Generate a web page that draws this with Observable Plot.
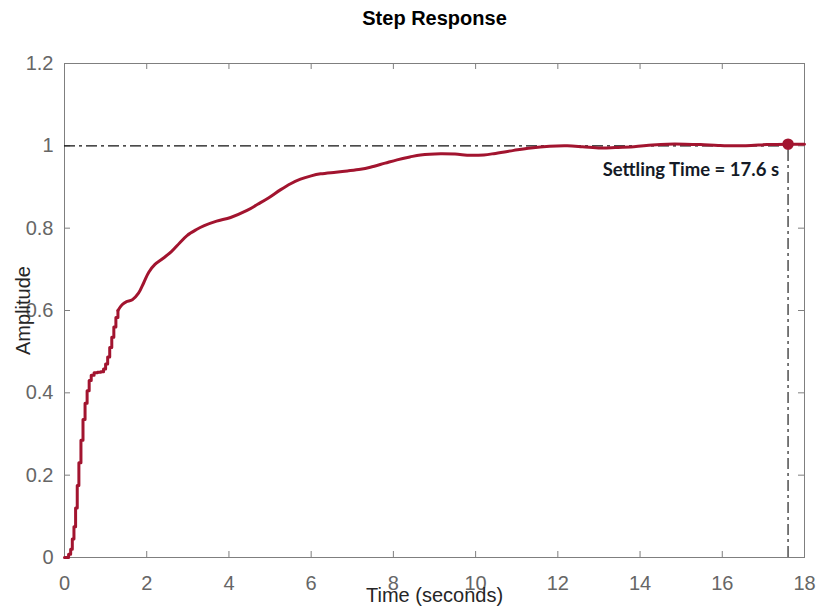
<!DOCTYPE html>
<html>
<head>
<meta charset="utf-8">
<script src="https://cdn.jsdelivr.net/npm/d3@7"></script>
<script src="https://cdn.jsdelivr.net/npm/@observablehq/plot@0.6"></script>
<style>
  html, body { margin: 0; padding: 0; background: #fff; }
  #chart svg { display: block; }
</style>
</head>
<body>
<div id="chart"></div>
<script>
// Sampled start of the step response (zero-order-hold staircase)
const stepTime  = [0, 0.10, 0.15, 0.19, 0.23, 0.27, 0.31, 0.35, 0.40, 0.45, 0.50, 0.55, 0.60, 0.65, 0.72, 0.80, 0.88, 0.95, 1.00, 1.05, 1.10, 1.15, 1.20, 1.25, 1.30];
const stepAmp   = [0, 0.008, 0.02, 0.045, 0.075, 0.12, 0.175, 0.23, 0.285, 0.335, 0.375, 0.405, 0.43, 0.443, 0.449, 0.45, 0.451, 0.458, 0.47, 0.487, 0.51, 0.535, 0.56, 0.583, 0.60];

// Remainder of the response, smooth
const smoothTime = [1.30, 1.40, 1.50, 1.65, 1.80, 1.93, 2.05, 2.20, 2.40, 2.60, 2.80, 2.98, 3.20, 3.40, 3.70, 4.04, 4.44, 4.70, 4.97, 5.25, 5.50, 5.74, 6.00, 6.23, 6.60, 6.88, 7.20, 7.44, 7.80, 8.09, 8.40, 8.66, 9.15, 9.50, 9.88, 10.20, 10.44, 10.93, 11.34, 11.80, 12.23, 12.60, 13.04, 13.40, 13.85, 14.30, 14.66, 15.10, 15.47, 15.90, 16.28, 16.70, 17.09, 17.60, 18.00];
const smoothAmp  = [0.60, 0.614, 0.621, 0.626, 0.642, 0.668, 0.693, 0.712, 0.727, 0.743, 0.764, 0.782, 0.796, 0.806, 0.817, 0.826, 0.843, 0.858, 0.874, 0.893, 0.908, 0.919, 0.927, 0.932, 0.936, 0.939, 0.943, 0.948, 0.958, 0.966, 0.973, 0.978, 0.981, 0.980, 0.977, 0.978, 0.981, 0.989, 0.995, 0.999, 1.0, 0.998, 0.995, 0.996, 0.998, 1.002, 1.004, 1.004, 1.003, 1.001, 1.000, 1.001, 1.003, 1.004, 1.004];

// Steady-state value and settling point
const finalValue  = 1;
const settleTime  = 17.6;
const settleValue = 1.004;

// Axis ticks
const xTicks = [0, 2, 4, 6, 8, 10, 12, 14, 16, 18];
const yTicks = [0, 0.2, 0.4, 0.6, 0.8, 1, 1.2];

const stepData   = stepTime.map((t, i) => ({t, y: stepAmp[i]}));
const smoothData = smoothTime.map((t, i) => ({t, y: smoothAmp[i]}));

const lineColor = "#A2142F";
const axisGray  = "#7f7f7f";
const dashDot   = "11,4,3,4";

const W = 818, H = 610;
const mL = 64, mR = 14, mT = 63, mB = 53;
const innerH = H - mT - mB;
const innerW = W - mL - mR;
const tickLen = 6;

const plain = d => String(d);

const chart = Plot.plot({
  width: W,
  height: H,
  marginLeft: mL,
  marginRight: mR,
  marginTop: mT,
  marginBottom: mB,
  style: {fontFamily: "'Liberation Sans', Arial, sans-serif", background: "#fff"},
  x: {domain: [0, 18]},
  y: {domain: [0, 1.2]},
  marks: [
    // tick labels
    Plot.axisX(xTicks, {anchor: "bottom", tickSize: 0, tickPadding: 18, fontSize: 20, color: "#666", label: null, tickFormat: plain}),
    Plot.axisY(yTicks, {anchor: "left", tickSize: 0, tickPadding: 11, fontSize: 20, color: "#666", label: null, tickFormat: plain}),
    // inward tick marks on all four sides
    Plot.ruleX(xTicks, {stroke: axisGray, insetTop: innerH - tickLen}),
    Plot.ruleX(xTicks, {stroke: axisGray, insetBottom: innerH - tickLen}),
    Plot.ruleY(yTicks, {stroke: axisGray, insetRight: innerW - tickLen}),
    Plot.ruleY(yTicks, {stroke: axisGray, insetLeft: innerW - tickLen}),
    Plot.frame({stroke: axisGray, strokeWidth: 1}),
    // final-value and settling-time guides
    Plot.ruleY([finalValue], {x1: 0, x2: settleTime, stroke: "#111", strokeWidth: 1.2, strokeDasharray: dashDot}),
    Plot.ruleX([settleTime], {y1: 0, y2: settleValue, stroke: "#222", strokeWidth: 1.2, strokeDasharray: dashDot}),
    // response curve
    Plot.line(stepData, {x: "t", y: "y", curve: "step-after", stroke: lineColor, strokeWidth: 3, strokeLinejoin: "round"}),
    Plot.line(smoothData, {x: "t", y: "y", curve: "catmull-rom", stroke: lineColor, strokeWidth: 3}),
    Plot.dot([{t: settleTime, y: settleValue}], {x: "t", y: "y", r: 5, fill: lineColor, stroke: lineColor}),
    Plot.text([{t: settleTime, y: settleValue}], {
      x: "t", y: "y",
      text: d => `Settling Time = ${d.t} s`,
      textAnchor: "end", lineAnchor: "middle", dx: -9, dy: 26,
      fontFamily: "Lato, 'Open Sans', sans-serif", fontWeight: "bold", fontSize: 18.5, fill: "#141a26"
    }),
    // title and axis labels
    Plot.text(["Step Response"], {frameAnchor: "top", dy: -45, lineAnchor: "middle", fontSize: 20, fontWeight: "bold", fill: "#000"}),
    Plot.text(["Time (seconds)"], {frameAnchor: "bottom", dy: 38, lineAnchor: "middle", fontSize: 20, fill: "#262626"}),
    Plot.text(["Amplitude"], {frameAnchor: "left", dx: -41, rotate: -90, textAnchor: "middle", lineAnchor: "middle", fontSize: 20, fill: "#262626"})
  ]
});

document.getElementById("chart").appendChild(chart);
</script>
</body>
</html>
